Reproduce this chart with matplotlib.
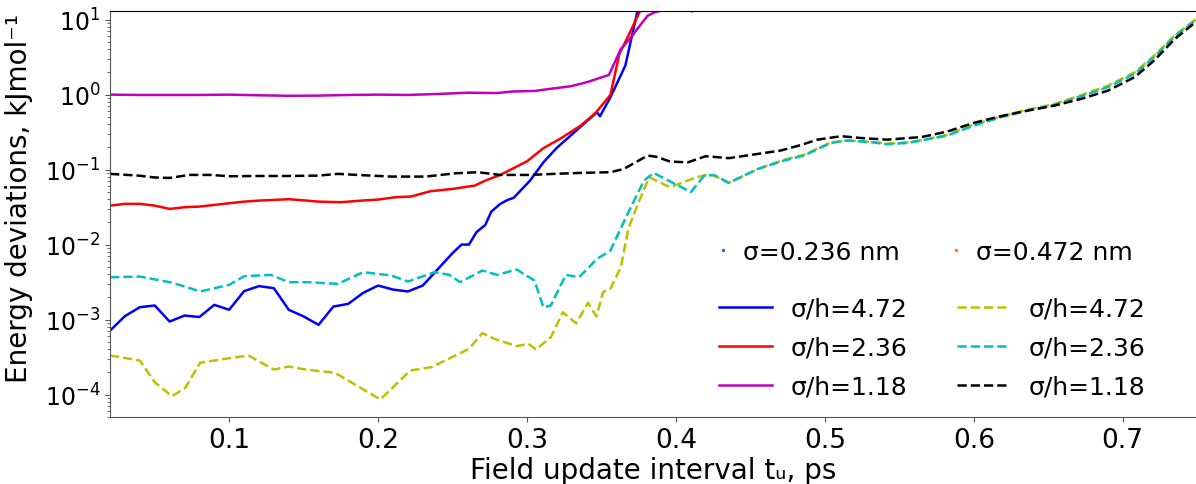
import matplotlib

matplotlib.use("Agg")
import matplotlib.pyplot as plt
from matplotlib.lines import Line2D

plt.rcParams["font.size"] = 18

# sigma = 0.236 nm (solid lines)
x_s472 = [0.02, 0.03, 0.04, 0.05, 0.06, 0.07, 0.08, 0.09, 0.10, 0.11, 0.12, 0.13,
          0.14, 0.15, 0.16, 0.17, 0.18, 0.19, 0.20, 0.21, 0.22, 0.23, 0.25, 0.256,
          0.261, 0.266, 0.272, 0.276, 0.282, 0.287, 0.291, 0.302, 0.311, 0.320,
          0.336, 0.347, 0.349, 0.356, 0.366, 0.374, 0.38]
y_s472 = [7.1e-4, 1.11e-3, 1.46e-3, 1.54e-3, 9.4e-4, 1.13e-3, 1.08e-3, 1.57e-3,
          1.35e-3, 2.39e-3, 2.79e-3, 2.62e-3, 1.35e-3, 1.10e-3, 8.5e-4, 1.49e-3,
          1.62e-3, 2.27e-3, 2.84e-3, 2.51e-3, 2.37e-3, 2.84e-3, 7.7e-3, 0.0100,
          0.0100, 0.0146, 0.0183, 0.0275, 0.0349, 0.0394, 0.0420, 0.0713, 0.125,
          0.195, 0.374, 0.582, 0.515, 0.923, 2.44, 12.6, 50.0]

x_s236 = [0.02, 0.03, 0.04, 0.05, 0.06, 0.07, 0.08, 0.09, 0.10, 0.11, 0.12, 0.13,
          0.14, 0.15, 0.16, 0.175, 0.189, 0.20, 0.212, 0.222, 0.235, 0.25, 0.265,
          0.272, 0.282, 0.30, 0.311, 0.322, 0.336, 0.346, 0.356, 0.362, 0.367,
          0.376, 0.385]
y_s236 = [0.0331, 0.0349, 0.0349, 0.0331, 0.0299, 0.0315, 0.0321, 0.0338, 0.0356,
          0.0374, 0.0386, 0.0394, 0.0403, 0.0389, 0.0374, 0.0367, 0.0386, 0.0398,
          0.0429, 0.0437, 0.0514, 0.0553, 0.0612, 0.0713, 0.0849, 0.129, 0.193,
          0.256, 0.386, 0.570, 0.991, 3.49, 5.53, 13.2, 63.0]

x_s118 = [0.02, 0.04, 0.06, 0.08, 0.10, 0.12, 0.14, 0.16, 0.18, 0.20, 0.22, 0.24,
          0.26, 0.28, 0.29, 0.305, 0.315, 0.329, 0.34, 0.355, 0.363, 0.369, 0.374,
          0.381, 0.386, 0.395, 0.405, 0.411, 0.42]
y_s118 = [1.00, 0.99, 0.99, 0.99, 1.00, 0.98, 0.965, 0.97, 0.99, 1.00, 0.99, 1.02,
          1.06, 1.05, 1.10, 1.12, 1.19, 1.29, 1.46, 1.83, 4.06, 5.53, 7.5, 11.3,
          12.6, 14.0, 14.0, 12.9, 20.0]

# sigma = 0.472 nm (dashed lines)
x_d472 = [0.02, 0.04, 0.05, 0.0615, 0.0704, 0.0805, 0.10, 0.113, 0.13, 0.14, 0.153,
          0.171, 0.2015, 0.2216, 0.236, 0.261, 0.27, 0.278, 0.293, 0.301, 0.306,
          0.316, 0.324, 0.333, 0.341, 0.3466, 0.351, 0.356, 0.363, 0.368, 0.374,
          0.382, 0.396, 0.414, 0.421, 0.4255, 0.4355, 0.455, 0.4725, 0.486, 0.504,
          0.515, 0.531, 0.542, 0.555, 0.5644, 0.582, 0.600, 0.618, 0.636, 0.654,
          0.672, 0.690, 0.708, 0.721, 0.735, 0.75]
y_d472 = [3.31e-4, 2.84e-4, 1.46e-4, 9.5e-5, 1.22e-4, 2.65e-4, 3.05e-4, 3.31e-4,
          2.15e-4, 2.36e-4, 2.13e-4, 1.95e-4, 8.6e-5, 2.09e-4, 2.32e-4, 4.06e-4,
          6.58e-4, 5.53e-4, 4.42e-4, 4.74e-4, 3.98e-4, 5.82e-4, 1.25e-3, 8.9e-4,
          1.67e-3, 1.10e-3, 2.32e-3, 2.57e-3, 5.0e-3, 0.0162, 0.0331, 0.0792,
          0.0582, 0.0792, 0.0849, 0.0832, 0.0665, 0.102, 0.135, 0.158, 0.230,
          0.245, 0.235, 0.222, 0.230, 0.245, 0.290, 0.400, 0.510, 0.630, 0.750,
          0.980, 1.32, 1.98, 3.30, 6.20, 10.5]

x_d236 = [0.02, 0.04, 0.06, 0.068, 0.0805, 0.10, 0.11, 0.128, 0.14, 0.153, 0.173,
          0.19, 0.209, 0.22, 0.238, 0.248, 0.255, 0.27, 0.28, 0.293, 0.305, 0.311,
          0.316, 0.326, 0.335, 0.347, 0.356, 0.367, 0.3785, 0.385, 0.395, 0.41,
          0.419, 0.4255, 0.4355, 0.455, 0.4725, 0.486, 0.504, 0.515, 0.531, 0.542,
          0.555, 0.5644, 0.582, 0.600, 0.618, 0.636, 0.654, 0.672, 0.690, 0.708,
          0.721, 0.735, 0.75]
y_d236 = [3.67e-3, 3.74e-3, 3.15e-3, 2.84e-3, 2.37e-3, 2.90e-3, 3.78e-3, 3.94e-3,
          3.15e-3, 3.15e-3, 2.99e-3, 4.29e-3, 3.86e-3, 3.21e-3, 4.29e-3, 3.94e-3,
          3.15e-3, 4.50e-3, 3.94e-3, 4.65e-3, 3.31e-3, 1.46e-3, 1.54e-3, 3.94e-3,
          3.67e-3, 6.44e-3, 8.32e-3, 0.0244, 0.0713, 0.0904, 0.0713, 0.0501,
          0.0832, 0.0849, 0.0665, 0.102, 0.132, 0.154, 0.227, 0.244, 0.232, 0.218,
          0.227, 0.244, 0.284, 0.386, 0.499, 0.612, 0.729, 0.951, 1.26, 1.89,
          3.16, 6.01, 10.2]

x_d118 = [0.02, 0.039, 0.05, 0.06, 0.073, 0.088, 0.10, 0.12, 0.14, 0.16, 0.173,
          0.19, 0.209, 0.232, 0.252, 0.267, 0.282, 0.302, 0.318, 0.336, 0.356,
          0.365, 0.381, 0.387, 0.396, 0.408, 0.42, 0.4355, 0.455, 0.470, 0.484,
          0.495, 0.511, 0.526, 0.542, 0.565, 0.582, 0.600, 0.618, 0.636, 0.654,
          0.672, 0.690, 0.708, 0.721, 0.735, 0.75]
y_d118 = [0.0877, 0.0832, 0.0785, 0.0774, 0.0849, 0.0849, 0.0815, 0.0822, 0.0822,
          0.0832, 0.0877, 0.0841, 0.0807, 0.0807, 0.0893, 0.0923, 0.0849, 0.0849,
          0.0877, 0.0904, 0.0923, 0.102, 0.154, 0.148, 0.128, 0.125, 0.151, 0.142,
          0.162, 0.179, 0.213, 0.251, 0.279, 0.262, 0.251, 0.272, 0.321, 0.420,
          0.515, 0.612, 0.713, 0.877, 1.13, 1.71, 2.84, 5.53, 9.66]

labels = ["σ/h=4.72", "σ/h=2.36", "σ/h=1.18"]
sigma_labels = ["σ=0.236 nm", "σ=0.472 nm"]

fig = plt.figure(figsize=(11.96, 4.85), dpi=100)
ax = fig.add_axes([0.092, 0.138, 0.909, 0.837])

lw = 1.8
solid = [
    ax.plot(x_s472, y_s472, "b-", lw=lw)[0],
    ax.plot(x_s236, y_s236, "r-", lw=lw)[0],
    ax.plot(x_s118, y_s118, "m-", lw=lw)[0],
]
dashed = [
    ax.plot(x_d472, y_d472, "y--", lw=lw)[0],
    ax.plot(x_d236, y_d236, "c--", lw=lw)[0],
    ax.plot(x_d118, y_d118, "k--", lw=lw)[0],
]

ax.set_yscale("log")
ax.set_xlim(0.02, 0.75)
ax.set_ylim(5e-5, 13)
ax.set_xticks([0.1, 0.2, 0.3, 0.4, 0.5, 0.6, 0.7])
ax.tick_params(axis="x", labelsize=19)
ax.tick_params(axis="y", labelsize=17)
ax.set_xlabel("Field update interval tᵤ, ps", fontsize=20, labelpad=2)
ax.set_ylabel("Energy deviations, kJmol⁻¹", fontsize=20)
ax.yaxis.set_label_coords(-0.071, 0.54)
for side in ("left", "bottom"):
    ax.spines[side].set_color("#555555")
ax.tick_params(which="both", color="#555555")

# legend for the two sigma values (dots only)
dots = [Line2D([], [], ls="none", marker=".", ms=3, color="C0"),
        Line2D([], [], ls="none", marker=".", ms=3, color="C1")]
leg1 = ax.legend(dots, sigma_labels, ncol=2, frameon=False, handlelength=0.3,
                 handletextpad=0.65, columnspacing=2.1, loc="upper left",
                 bbox_to_anchor=(0.5396, 0.492), fontsize=18)
ax.add_artist(leg1)
ax.legend(solid + dashed, labels + labels, ncol=2, frameon=False,
          handlelength=2.1, handletextpad=0.75, columnspacing=2.0,
          labelspacing=0.6, loc="upper left", bbox_to_anchor=(0.5396, 0.352),
          fontsize=18)

fig.savefig("out.png", dpi=100)
